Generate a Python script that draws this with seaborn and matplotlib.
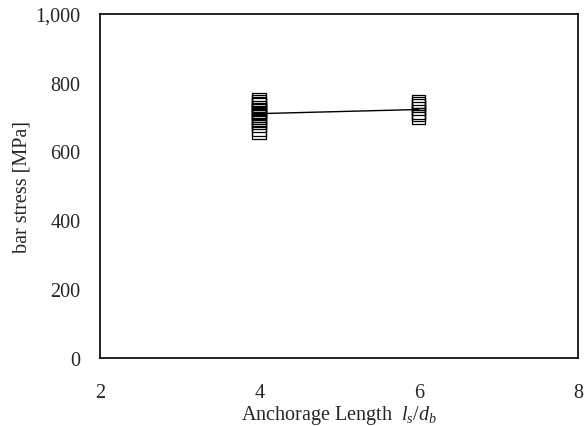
import matplotlib
matplotlib.use("Agg")
import matplotlib.pyplot as plt
from matplotlib.ticker import FuncFormatter
import seaborn as sns
import pandas as pd

# Individual test results (bar stress, MPa) per anchorage length ratio
ratio_4 = [655, 665, 675, 685, 692, 700, 705, 712, 718, 722, 728, 735, 740, 745, 750]
ratio_6 = [700, 708, 715, 725, 733, 740, 745]
# Mean bar stress per anchorage length ratio
mean_ratio = [4, 6]
mean_stress = [710, 722]

x_ticks = [2, 4, 6, 8]
y_ticks = [0, 200, 400, 600, 800, 1000]

tests = pd.DataFrame({
    "ratio": [4] * len(ratio_4) + [6] * len(ratio_6),
    "stress": ratio_4 + ratio_6,
})
means = pd.DataFrame({"ratio": mean_ratio, "stress": mean_stress})

sns.set_style("white")
plt.rcParams["font.family"] = ["Liberation Serif", "DejaVu Serif"]
plt.rcParams["mathtext.fontset"] = "custom"
plt.rcParams["mathtext.rm"] = "Liberation Serif"
plt.rcParams["mathtext.it"] = "Liberation Serif:italic"

fig = plt.figure(figsize=(5.87, 4.27), dpi=100)
ax = fig.add_axes([0.170, 0.160, 0.815, 0.805])

sns.lineplot(data=means, x="ratio", y="stress", ax=ax, color="black",
             linewidth=1.0, zorder=2)
sns.scatterplot(data=tests, x="ratio", y="stress", ax=ax, marker="s", s=95,
                facecolors="none", edgecolor="black", linewidth=0.9, zorder=3)

ax.set_xlim(2, 8)
ax.set_ylim(0, 1000)
ax.set_xticks(x_ticks)
ax.set_yticks(y_ticks)
ax.yaxis.set_major_formatter(FuncFormatter(lambda v, p: f"{int(v):,}"))
ax.tick_params(axis="x", direction="inout", length=10, width=1.0, labelsize=14.5, pad=13)
ax.tick_params(axis="y", direction="in", length=6, width=1.0, labelsize=14.5, pad=14)

for side in ["left", "bottom", "top", "right"]:
    ax.spines[side].set_visible(True)
    ax.spines[side].set_color("black")
    ax.spines[side].set_linewidth(1.2)

ax.set_xlabel(r"Anchorage Length  $l_s/d_b$", fontsize=14.5, labelpad=1)
ax.set_ylabel("bar stress [MPa]", fontsize=14.5, labelpad=3)

fig.savefig("out.png", dpi=100)
